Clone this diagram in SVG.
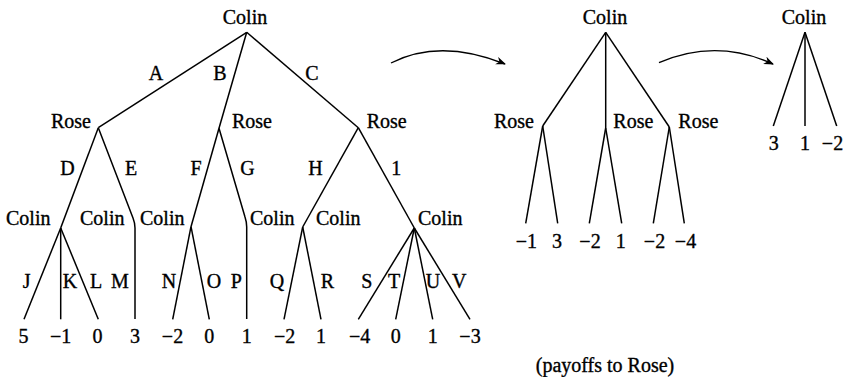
<svg xmlns="http://www.w3.org/2000/svg" width="853" height="377" viewBox="0 0 853 377">
<style>
text{font-family:"Liberation Serif","Times New Roman",serif;font-size:20px;fill:#000;stroke:#000;stroke-width:0.35}
.m{text-anchor:middle}
.e{text-anchor:end}
.ln{fill:none;stroke:#000;stroke-width:1.5;stroke-linejoin:round}
.arr{fill:none;stroke:#000;stroke-width:1.4;marker-end:url(#ah)}
</style>
<defs>
<marker id="ah" markerUnits="userSpaceOnUse" markerWidth="12" markerHeight="10" refX="9" refY="4" orient="auto">
<path d="M0,0 L10,4 L0,8 L3,4 Z" fill="#000"/>
</marker>
</defs>
<rect width="853" height="377" fill="#fff"/>
<g id="connectors">
<g class="ln">
<path d="M246.7,32.3 L98.3,127.7"/>
<path d="M246.7,32.3 L219,128.3"/>
<path d="M246.7,32.3 L358.3,127.7"/>
<path d="M98.3,127.7 L60.7,228"/>
<path d="M98.3,127.7 L133,218 Q135,223 135,228 L135,319"/>
<path d="M219,128.3 L191,226.7"/>
<path d="M219,128.3 L245,217 Q246.7,222 246.7,227 L246.7,319"/>
<path d="M358.3,127.7 L302.7,227"/>
<path d="M358.3,127.7 L414.3,228"/>
<path d="M60.7,228 L24,319.3"/>
<path d="M60.7,228 L60.7,319.3"/>
<path d="M60.7,228 L98.3,319.3"/>
<path d="M191,226.7 L172.7,319.3"/>
<path d="M191,226.7 L209.3,319.3"/>
<path d="M302.7,227 L284,319.3"/>
<path d="M302.7,227 L321,319.3"/>
<path d="M414.3,228 L358.3,319.3"/>
<path d="M414.3,228 L395.7,319.3"/>
<path d="M414.3,228 L432.7,319.3"/>
<path d="M414.3,228 L470,319.3"/>
<path d="M605.7,32.3 L542.7,126"/>
<path d="M605.7,32.3 L605.7,128"/>
<path d="M605.7,32.3 L669.3,127"/>
<path d="M542.7,126 L525.7,223.3"/>
<path d="M542.7,126 L557.7,223.3"/>
<path d="M605.7,128 L589.3,223.3"/>
<path d="M605.7,128 L621.7,223.3"/>
<path d="M669.3,127 L653.3,223.3"/>
<path d="M669.3,127 L684.3,223.3"/>
<path d="M805,32.3 L773.3,126"/>
<path d="M805,32.3 L805,126"/>
<path d="M805,32.3 L836.7,126"/>
</g>
<path class="arr" d="M391,63 Q440,38 505,64"/>
<path class="arr" d="M659,62.7 Q716,38 773,64"/>
<g id="move-labels">
<text class="m" x="156" y="80">A</text>
<text class="m" x="220" y="80">B</text>
<text class="m" x="312" y="80">C</text>
<text class="m" x="67.5" y="175">D</text>
<text class="m" x="131" y="175">E</text>
<text class="m" x="196" y="175">F</text>
<text class="m" x="247.5" y="175">G</text>
<text class="m" x="315.5" y="175">H</text>
<text class="m" x="396.3" y="175">1</text>
<text class="m" x="26.7" y="288.3">J</text>
<text class="m" x="70" y="288.3">K</text>
<text class="m" x="96" y="288.3">L</text>
<text class="m" x="120" y="288.3">M</text>
<text class="m" x="169" y="288.3">N</text>
<text class="m" x="214" y="288.3">O</text>
<text class="m" x="236.3" y="288.3">P</text>
<text class="m" x="277" y="288.3">Q</text>
<text class="m" x="327.5" y="288.3">R</text>
<text class="m" x="366.7" y="288.3">S</text>
<text class="m" x="394" y="288.3">T</text>
<text class="m" x="433" y="288.3">U</text>
<text class="m" x="459.3" y="288.3">V</text>
</g>
</g>
<g id="n-root"><text class="m" x="245" y="24">Colin</text></g>
<g id="n-roseA"><text class="e" x="91" y="127.5">Rose</text></g>
<g id="n-roseB"><text x="232" y="127.5">Rose</text></g>
<g id="n-roseC"><text x="366.7" y="127.5">Rose</text></g>
<g id="n-colinD"><text x="6" y="225">Colin</text></g>
<g id="n-colinE"><text x="80" y="225">Colin</text></g>
<g id="n-colinF"><text x="140" y="225">Colin</text></g>
<g id="n-colinG"><text x="250" y="225">Colin</text></g>
<g id="n-colinH"><text x="316" y="225">Colin</text></g>
<g id="n-colinI"><text x="418" y="225">Colin</text></g>
<g id="leaves1">
<text class="m" x="23.5" y="342.7">5</text>
<text class="m" x="60.7" y="342.7">−1</text>
<text class="m" x="97.5" y="342.7">0</text>
<text class="m" x="135" y="342.7">3</text>
<text class="m" x="172.5" y="342.7">−2</text>
<text class="m" x="209.3" y="342.7">0</text>
<text class="m" x="246.7" y="342.7">1</text>
<text class="m" x="284.7" y="342.7">−2</text>
<text class="m" x="321" y="342.7">1</text>
<text class="m" x="359.7" y="342.7">−4</text>
<text class="m" x="395.7" y="342.7">0</text>
<text class="m" x="432.7" y="342.7">1</text>
<text class="m" x="470" y="342.7">−3</text>
</g>
<g id="n-root2"><text class="m" x="605" y="24">Colin</text></g>
<g id="n-rose2a"><text class="e" x="534" y="127.5">Rose</text></g>
<g id="n-rose2b"><text x="613.3" y="127.5">Rose</text></g>
<g id="n-rose2c"><text x="678.3" y="127.5">Rose</text></g>
<g id="leaves2">
<text class="m" x="526.3" y="248.3">−1</text>
<text class="m" x="557" y="248.3">3</text>
<text class="m" x="590" y="248.3">−2</text>
<text class="m" x="620.7" y="248.3">1</text>
<text class="m" x="654.5" y="248.3">−2</text>
<text class="m" x="685.5" y="248.3">−4</text>
</g>
<g id="n-root3"><text class="m" x="804" y="24">Colin</text></g>
<g id="leaves3">
<text class="m" x="773.8" y="150">3</text>
<text class="m" x="805" y="150">1</text>
<text class="m" x="832.5" y="150">−2</text>
</g>
<g id="caption"><text class="m" x="605" y="372">(payoffs to Rose)</text></g>
</svg>
